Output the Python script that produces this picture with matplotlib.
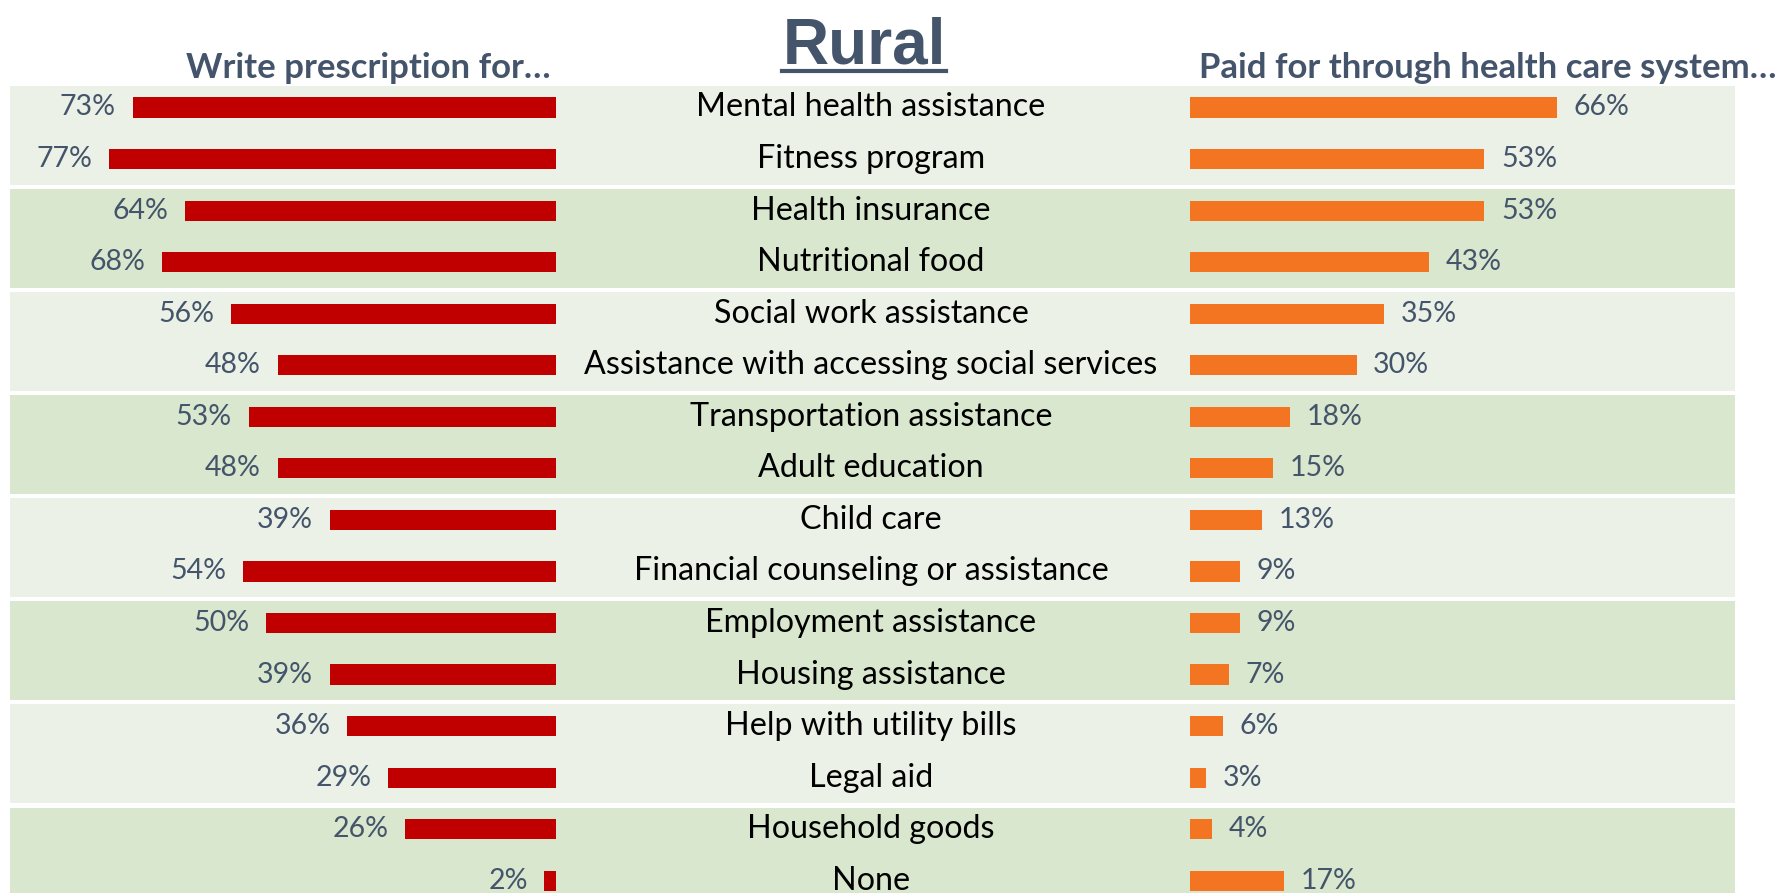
import matplotlib
matplotlib.use("Agg")
import matplotlib.pyplot as plt
from matplotlib.lines import Line2D

categories = [
    "Mental health assistance", "Fitness program", "Health insurance",
    "Nutritional food", "Social work assistance",
    "Assistance with accessing social services", "Transportation assistance",
    "Adult education", "Child care", "Financial counseling or assistance",
    "Employment assistance", "Housing assistance", "Help with utility bills",
    "Legal aid", "Household goods", "None",
]
prescription = [73, 77, 64, 68, 56, 48, 53, 48, 39, 54, 50, 39, 36, 29, 26, 2]
paid = [66, 53, 53, 43, 35, 30, 18, 15, 13, 9, 9, 7, 6, 3, 4, 17]

RED = "#C00000"
ORANGE = "#F47521"
SLATE = "#44546A"
BANDS = ["#EBF1E6", "#D8E7CD"]

W, H = 1780, 893
first_row = 107.5   # pixel centre of the first row
pitch = 51.55       # pixels between rows
ylim = ((H - first_row) / pitch, -first_row / pitch)

fig = plt.figure(figsize=(W / 100, H / 100), dpi=100)
fig.patch.set_facecolor("white")

# background with alternating bands every two rows
bg = fig.add_axes([0, 0, 1, 1])
bg.set_xlim(0, 1)
bg.set_ylim(*ylim)
bg.axis("off")
for k in range(len(categories) // 2):
    bg.axhspan(2 * k - 0.42, 2 * k + 1.5, xmin=10 / W, xmax=1735 / W,
               color=BANDS[k % 2], lw=0, zorder=0)

rows = list(range(len(categories)))
font = "Lato"

for i, cat in enumerate(categories):
    bg.text(871 / W, i, cat, ha="center", va="center", fontsize=23.2,
            family=font, color="black")

# left panel: write prescription for
left_px = 556
axl = fig.add_axes([0, 0, left_px / W, 1])
axl.set_xlim(left_px / 5.80, 0)
axl.set_ylim(*ylim)
axl.axis("off")
axl.barh(rows, prescription, height=0.39, color=RED, zorder=2)
for i, v in enumerate(prescription):
    axl.annotate(f"{v}%", (v, i), xytext=(-12, 0), textcoords="offset points",
                 ha="right", va="center", fontsize=20.5, family=font, color=SLATE)

# right panel: paid for through health care system
right_px = 1189.7
axr = fig.add_axes([right_px / W, 0, 1 - right_px / W, 1])
axr.set_xlim(0, (W - right_px) / 5.562)
axr.set_ylim(*ylim)
axr.axis("off")
axr.barh(rows, paid, height=0.39, color=ORANGE, zorder=2)
for i, v in enumerate(paid):
    axr.annotate(f"{v}%", (v, i), xytext=(12, 0), textcoords="offset points",
                 ha="left", va="center", fontsize=20.5, family=font, color=SLATE)

fig.text(551 / W, 1 - 68 / H, "Write prescription for…", ha="right",
         va="center", fontsize=25, fontweight="bold", family=font, color=SLATE)
fig.text(1199 / W, 1 - 68 / H, "Paid for through health care system…",
         ha="left", va="center", fontsize=25, fontweight="bold", family=font,
         color=SLATE)

title = fig.text(864 / W, 1 - 63 / H, "Rural", ha="center", va="baseline",
                 fontsize=46, fontweight="bold", family="Liberation Sans",
                 color=SLATE)

# underline the title
fig.canvas.draw()
bb = title.get_window_extent().transformed(fig.transFigure.inverted())
uy = 1 - 71 / H
fig.add_artist(Line2D([bb.x0, bb.x1], [uy, uy], color=SLATE, lw=3,
                      transform=fig.transFigure))

fig.savefig("out.png", dpi=100)
